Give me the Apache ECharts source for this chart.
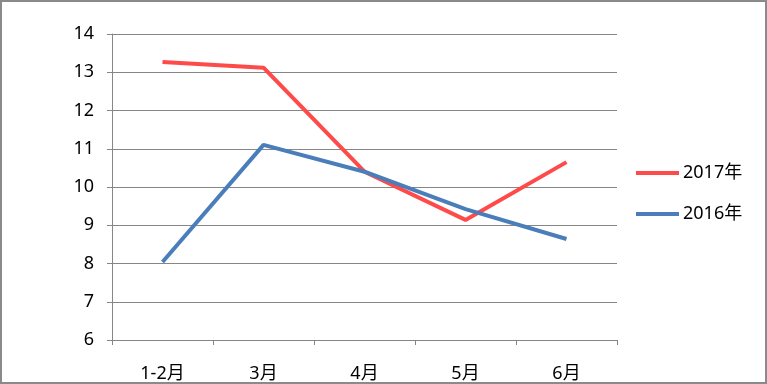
<!DOCTYPE html>
<html><head><meta charset="utf-8">
<script src="https://cdn.jsdelivr.net/npm/echarts@6/dist/echarts.min.js"></script>
<style>html,body{margin:0;padding:0;background:#fff}#c{width:767px;height:384px}</style>
</head><body><div id="c"></div>
<script>
const categories = ['1-2月', '3月', '4月', '5月', '6月'];
const seriesNames = ['2017年', '2016年'];
const values2017 = [13.27, 13.12, 10.4, 9.14, 10.65];
const values2016 = [8.04, 11.1, 10.4, 9.42, 8.64];
const yTicks = { min: 6, max: 14, interval: 1 };

const font = '"Noto Sans","Noto Sans CJK SC",sans-serif';
const chart = echarts.init(document.getElementById('c'));
chart.setOption({
  animation: false,
  backgroundColor: '#fff',
  graphic: [{ type: 'rect', shape: { x: 1, y: 1, width: 765, height: 382 }, style: { fill: 'none', stroke: '#8a8a8a', lineWidth: 2 }, silent: true }],
  grid: { left: 112, right: 150, top: 34, bottom: 44 },
  legend: {
    orient: 'vertical', left: 636, top: 164, padding: 0, icon: 'rect', itemWidth: 43, itemHeight: 4, itemGap: 23,
    textStyle: { fontFamily: font, fontSize: 18, color: '#000', padding: [0, 0, 0, -1] },
    data: seriesNames
  },
  xAxis: {
    type: 'category', data: categories, boundaryGap: true,
    axisLine: { lineStyle: { color: '#868686', width: 1 } },
    axisTick: { show: true, length: 5, lineStyle: { color: '#868686' } },
    axisLabel: { margin: 25, fontFamily: font, fontSize: 18, color: '#000' }
  },
  yAxis: {
    type: 'value', min: yTicks.min, max: yTicks.max, interval: yTicks.interval,
    axisLine: { show: true, lineStyle: { color: '#868686', width: 1 } },
    axisTick: { show: true, length: 5, lineStyle: { color: '#868686' } },
    splitLine: { lineStyle: { color: '#868686', width: 1 } },
    axisLabel: { margin: 18, fontFamily: font, fontSize: 18, color: '#000' }
  },
  series: [
    { name: seriesNames[0], type: 'line', data: values2017, symbol: 'none', color: '#FF4A4A', lineStyle: { width: 4, color: '#FF4A4A' } },
    { name: seriesNames[1], type: 'line', data: values2016, symbol: 'none', color: '#4A7EBB', lineStyle: { width: 4, color: '#4A7EBB' } }
  ]
});
</script></body></html>
